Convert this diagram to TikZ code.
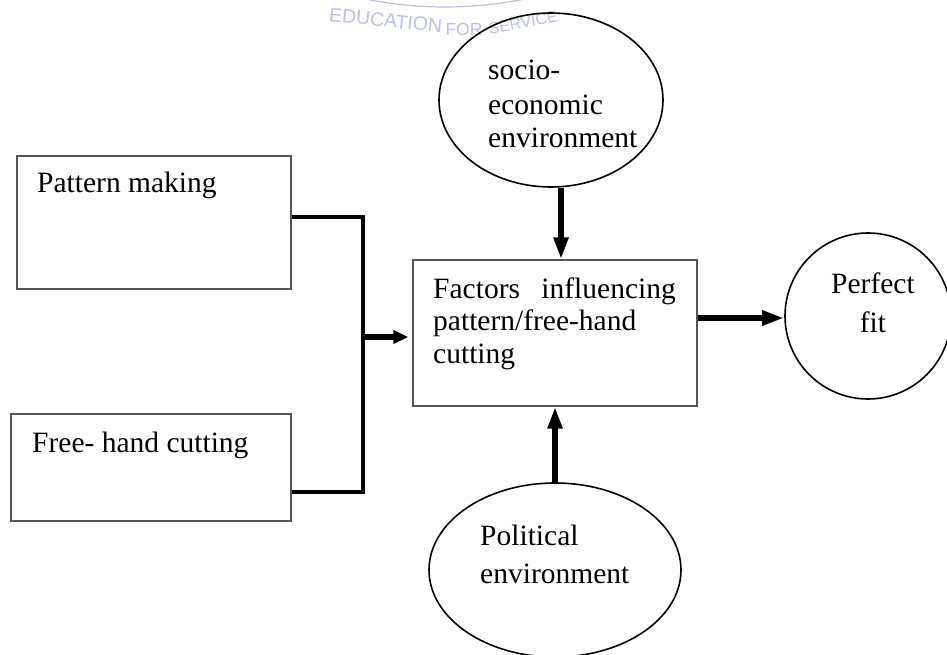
\documentclass[tikz,border=0pt]{standalone}
\usepackage{fontspec}
\setmainfont{Liberation Serif}
\newfontfamily\wmfam{Liberation Sans}
\usetikzlibrary{shapes.geometric,arrows.meta,calc}
\definecolor{boxgray}{RGB}{85,85,85}
\definecolor{wmcol}{RGB}{188,192,224}
\begin{document}
\begin{tikzpicture}[x=1pt,y=-1pt,
  every node/.style={font=\fontsize{29.5}{34}\selectfont},
  boxnode/.style={draw=boxgray, line width=1.3pt, rectangle, inner sep=0pt},
  ellnode/.style={draw=black, line width=1.6pt, ellipse, inner sep=0pt},
  lbl/.style={anchor=base west, inner sep=0pt},
  wm/.style={anchor=base, inner sep=0pt, text=wmcol},
  conn/.style={line width=4pt},
  arr/.style={line width=6pt, -{Triangle[length=22pt,width=14pt]}},
  arrs/.style={line width=6pt, -{Triangle[length=15pt,width=13pt]}},
]
\useasboundingbox (0,0) rectangle (947,655);
\clip (0,0) rectangle (947,655);

% watermark (partial logo)
\node[wm, rotate=-6, font=\wmfam\fontsize{19.5}{20}\selectfont] (w1) at (385,27) {EDUCATION};
\node[wm, font=\wmfam\fontsize{17.5}{18}\selectfont] (w2) at (464,36) {FOR};
\node[wm, rotate=10, font=\wmfam\fontsize{16}{17}\selectfont] (w3) at (524,28) {SERVICE};
\draw[wmcol, line width=1.2pt] (335,-8) .. controls (410,12) and (480,12) .. (555,-8);

% boxes and ellipses
\node[boxnode, minimum width=274pt, minimum height=133pt] (pm) at (154,222.5) {};
\node[boxnode, minimum width=280pt, minimum height=107pt] (fh) at (151,467.5) {};
\node[boxnode, minimum width=284pt, minimum height=146pt] (ctr) at (555,333) {};
\node[ellnode, minimum width=224pt, minimum height=174pt] (socio) at (551,100) {};
\node[ellnode, minimum width=252pt, minimum height=174pt] (pol) at (555,570) {};
\node[ellnode, circle, minimum size=166pt] (pf) at (868,316) {};

% texts
\node[lbl] (tpm) at (37,193) {Pattern making};
\node[lbl] (tfh) at (32,452) {Free- hand cutting};
\node[lbl] (f1) at (433,298) {Factors};
\node[lbl, anchor=base east] (f2) at (676,298) {influencing};
\node[lbl] (f3) at (433,330) {pattern/free-hand};
\node[lbl] (f4) at (433,363) {cutting};
\node[lbl] (s1) at (488,80) {socio-};
\node[lbl] (s2) at (488,115) {economic};
\node[lbl] (s3) at (488,148) {environment};
\node[lbl] (p1) at (480,545) {Political};
\node[lbl] (p2) at (480,583) {environment};
\node[anchor=base, inner sep=0pt] (q1) at (873,293) {Perfect};
\node[anchor=base, inner sep=0pt] (q2) at (873,332) {fit};

% connectors
\coordinate (jt) at (363,217);
\coordinate (jb) at (363,492);
\coordinate (jm) at (361,337);
\draw[conn] (pm.east |- jt) -- (jt) -- (jb) -- (fh.east |- jb);
\draw[arrs] (jm) -- ([xshift=-4pt]jm -| ctr.west);
\draw[arr] ([xshift=10pt]socio.south) -- ([xshift=10pt]socio.south |- ctr.north);
\draw[arr] (pol.north) -- (ctr.south);
\draw[arr] ([yshift=15pt]ctr.east) -- ([yshift=15pt]ctr.east -| pf.west);
\end{tikzpicture}
\end{document}
